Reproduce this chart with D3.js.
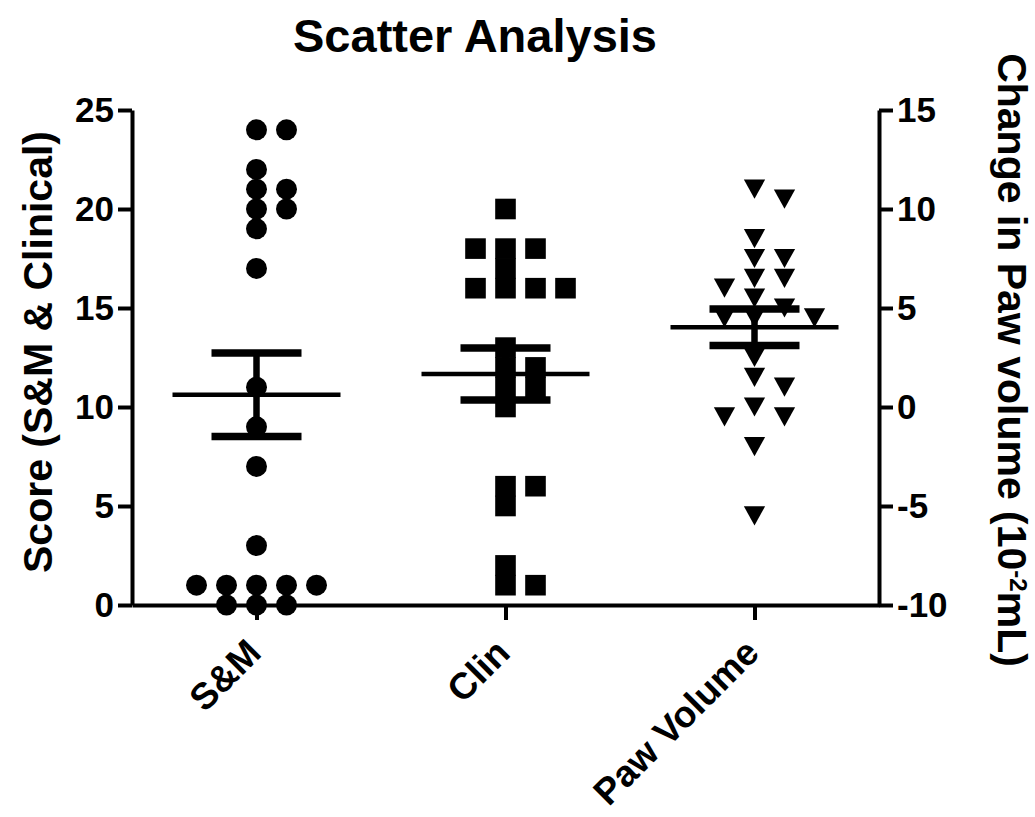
<!DOCTYPE html>
<html lang="en">
<head>
<meta charset="utf-8">
<title>Scatter Analysis</title>
<script src="https://d3js.org/d3.v7.min.js"></script>
<style>
  body { margin: 0; background: white; }
  text { font-family: "Liberation Sans", Arial, sans-serif; font-weight: bold; fill: black; }
  .axis path, .axis line { stroke: black; stroke-width: 4; }
</style>
</head>
<body>
<div id="vis"></div>
<script>

const categories = ["S&M", "Clin", "Paw Volume"];
const smScores = [24, 24, 22, 21, 21, 20, 20, 19, 17, 11, 9, 7, 3, 1, 1, 1, 1, 1, 0, 0, 0];
const clinScores = [20, 18, 18, 18, 17, 16, 16, 16, 16, 13, 12, 12, 11, 11, 10, 6, 6, 5, 2, 1, 1];
const pawVolume = [11, 10.5, 8.5, 7.5, 7.5, 6.5, 6.5, 6, 5.5, 5, 4.5, 4.5, 4.5, 2.5, 1.5, 1, 0, -0.5, -0.5, -2, -5.5];
const leftTicks = [0, 5, 10, 15, 20, 25];
const rightTicks = [-10, -5, 0, 5, 10, 15];

const width = 1035, height = 817;
const plotLeft = 132, plotRight = 879, plotTop = 110, plotBottom = 605;

const svg = d3.select("#vis").append("svg")
  .attr("width", width)
  .attr("height", height);

const x = d3.scalePoint().domain(categories).range([plotLeft, plotRight]).padding(0.5);
const yL = d3.scaleLinear().domain([0, 25]).range([plotBottom, plotTop]);
const yR = d3.scaleLinear().domain([-10, 15]).range([plotBottom, plotTop]);

// downward triangle centred on its box
const triangleDown = {
  draw(ctx, size) {
    const w = Math.sqrt(size) * 1.05, h = Math.sqrt(size) * 0.95;
    ctx.moveTo(-w / 2, -h / 2);
    ctx.lineTo(w / 2, -h / 2);
    ctx.lineTo(0, h / 2);
    ctx.closePath();
  }
};

const groups = [
  { name: "S&M", values: smScores, y: yL, symbol: d3.symbol(d3.symbolCircle, 345) },
  { name: "Clin", values: clinScores, y: yL, symbol: d3.symbol(d3.symbolSquare, 425) },
  { name: "Paw Volume", values: pawVolume, y: yR, symbol: d3.symbol(triangleDown, 410) }
];

// simple column-scatter layout: 0, +1, -1, +2, -2 ... slots
const slotW = 30;
function swarm(values, y) {
  const placed = [];
  return values.map(v => {
    const py = y(v);
    for (let k = 0; ; k++) {
      const s = k === 0 ? 0 : (k % 2 ? (k + 1) / 2 : -k / 2);
      if (!placed.some(p => p.s === s && Math.abs(p.py - py) < 19)) {
        placed.push({ s, py });
        return s;
      }
    }
  });
}

groups.forEach(g => {
  const slots = swarm(g.values, g.y);
  const cx = x(g.name);
  svg.append("g").selectAll("path")
    .data(g.values)
    .join("path")
    .attr("d", g.symbol)
    .attr("transform", (d, i) => `translate(${cx + slots[i] * slotW},${g.y(d)})`)
    .attr("fill", "black");

  const mean = d3.mean(g.values);
  const sem = d3.deviation(g.values) / Math.sqrt(g.values.length);
  const eb = svg.append("g").attr("stroke", "black");
  eb.append("line")
    .attr("x1", cx - 84).attr("x2", cx + 84)
    .attr("y1", g.y(mean)).attr("y2", g.y(mean))
    .attr("stroke-width", 4.5);
  eb.append("line")
    .attr("x1", cx).attr("x2", cx)
    .attr("y1", g.y(mean + sem)).attr("y2", g.y(mean - sem))
    .attr("stroke-width", 6.5);
  [mean + sem, mean - sem].forEach(v => {
    eb.append("line")
      .attr("x1", cx - 45).attr("x2", cx + 45)
      .attr("y1", g.y(v)).attr("y2", g.y(v))
      .attr("stroke-width", 7.5);
  });
});

// axes (plain hyphen for negatives, like the original)
const fmt = d => String(d);

const leftAxis = svg.append("g").attr("class", "axis")
  .attr("transform", `translate(${plotLeft},0)`)
  .call(d3.axisLeft(yL).tickValues(leftTicks).tickFormat(fmt).tickSize(14).tickSizeOuter(0).tickPadding(4));

const rightAxis = svg.append("g").attr("class", "axis")
  .attr("transform", `translate(${plotRight},0)`)
  .call(d3.axisRight(yR).tickValues(rightTicks).tickFormat(fmt).tickSize(14).tickSizeOuter(0).tickPadding(4));

const bottomAxis = svg.append("g").attr("class", "axis")
  .attr("transform", `translate(0,${plotBottom})`)
  .call(d3.axisBottom(x).tickSize(15).tickSizeOuter(0));

svg.selectAll(".axis text").attr("font-size", 35).attr("fill", "black");

bottomAxis.selectAll("text")
  .attr("font-size", 37)
  .attr("text-anchor", "end")
  .attr("dy", 0)
  .attr("y", 0)
  .attr("transform", "translate(6,50) rotate(-45)");

// titles
svg.append("text")
  .attr("x", 475).attr("y", 52)
  .attr("text-anchor", "middle")
  .attr("font-size", 47)
  .text("Scatter Analysis");

svg.append("text")
  .attr("transform", "translate(52,352) rotate(-90)")
  .attr("text-anchor", "middle")
  .attr("font-size", 41)
  .text("Score (S&M & Clinical)");

const rl = svg.append("text")
  .attr("transform", "translate(998,360) rotate(90)")
  .attr("text-anchor", "middle")
  .attr("font-size", 41);
rl.append("tspan").text("Change in Paw volume (10");
rl.append("tspan").attr("font-size", 24).attr("dy", -12).text("-2");
rl.append("tspan").attr("dy", 12).text("mL)");

</script>
</body>
</html>
